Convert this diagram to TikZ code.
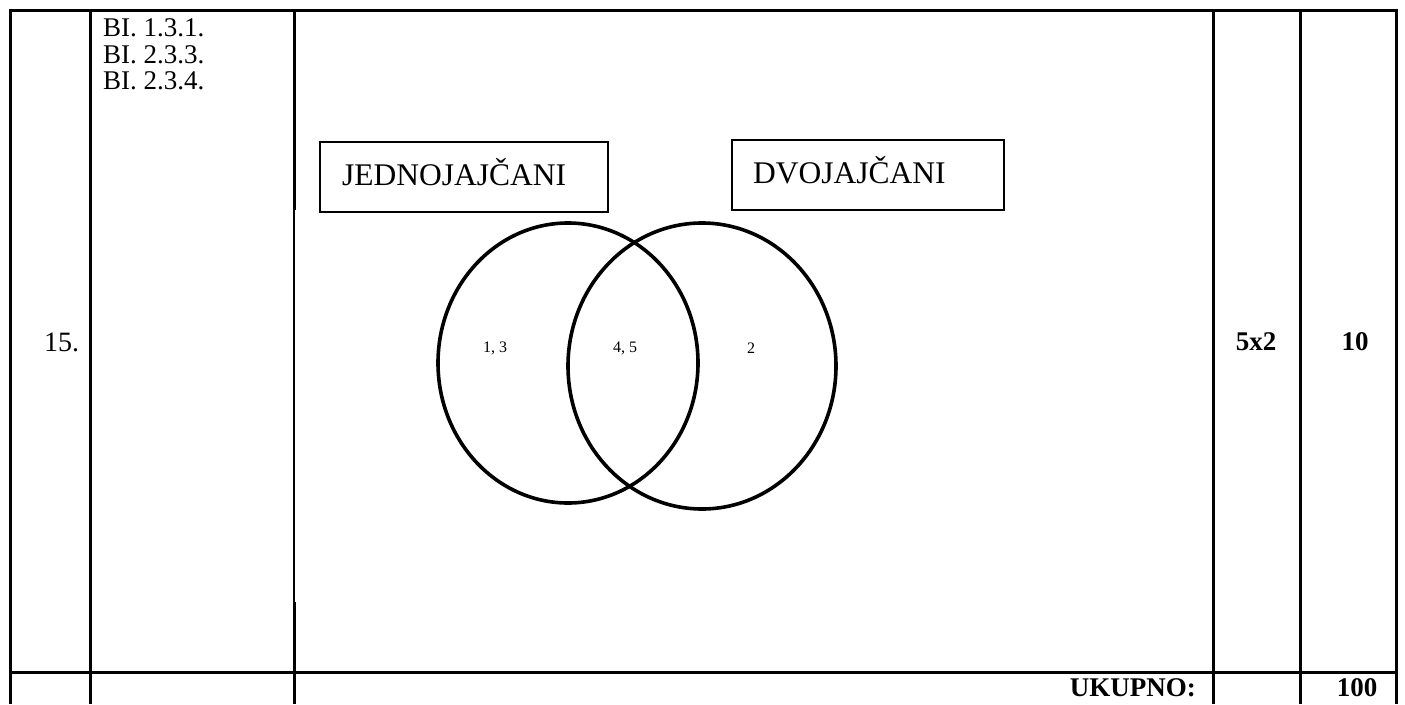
\documentclass[tikz,border=0pt]{standalone}
\usepackage{fontspec}
\setmainfont{Liberation Serif}
\begin{document}
\begin{tikzpicture}[x=1pt,y=-1pt,
  rule/.style={line width=3pt},
  thinrule/.style={line width=1.2pt},
  labelbox/.style={draw, line width=1.8pt, inner sep=0pt},
  plain/.style={inner sep=0pt, font=\fontsize{27}{28}\selectfont},
  big/.style={inner sep=0pt, font=\fontsize{31.5}{33}\selectfont},
  bold/.style={inner sep=0pt, font=\fontsize{27}{29}\selectfont\bfseries},
  small/.style={inner sep=0pt, font=\fontsize{16}{17}\selectfont},
  venn/.style={line width=3.6pt}]
\useasboundingbox (0,0) rectangle (1405,704);
% table lines
\coordinate (tl) at (10,10);
\coordinate (tr) at (1396,10);
\coordinate (ml) at (10,672);
\coordinate (mr) at (1396,672);
\draw[rule] (tl) -- (tr);
\draw[rule] (ml) -- (mr);
\draw[rule] (10,8.5) -- (10,704);
\draw[rule] (90,10) -- (90,704);
\draw[rule] (294,10) -- (294,210);
\draw[thinrule] (294,210) -- (294,602);
\draw[rule] (294,602) -- (294,704);
\draw[rule] (1213,10) -- (1213,704);
\draw[rule] (1300,10) -- (1300,704);
\draw[rule] (1396,8.5) -- (1396,704);
% texts in table
\node[plain, anchor=west] (c1) at (103,28) {BI. 1.3.1.};
\node[plain, anchor=west] (c2) at (103,55) {BI. 2.3.3.};
\node[plain, anchor=west] (c3) at (103,81) {BI. 2.3.4.};
\node[inner sep=0pt, font=\fontsize{28}{30}\selectfont, anchor=west] (num) at (44,342) {15.};
\node[bold] (pts) at (1256,342) {5x2};
\node[bold] (tot) at (1355,342) {10};
\node[bold, anchor=east] (uk) at (1196,688) {UKUPNO:};
\node[bold] (sum) at (1357,688) {100};
% label boxes
\node[labelbox, minimum width=288pt, minimum height=70pt] (jbox) at (464,177) {};
\node[big, anchor=west] (jtxt) at (342,172) {JEDNOJAJČANI};
\node[labelbox, minimum width=272pt, minimum height=70pt] (dbox) at (868,175) {};
\node[big, anchor=west] (dtxt) at (753,170) {DVOJAJČANI};
% venn diagram
\draw[venn] (568,363) ellipse [x radius=130, y radius=140];
\draw[venn] (702,366) ellipse [x radius=134, y radius=143];
\node[small] (a) at (495,348) {1, 3};
\node[small] (b) at (625,348) {4, 5};
\node[small] (c) at (751,348) {2};
\end{tikzpicture}
\end{document}
